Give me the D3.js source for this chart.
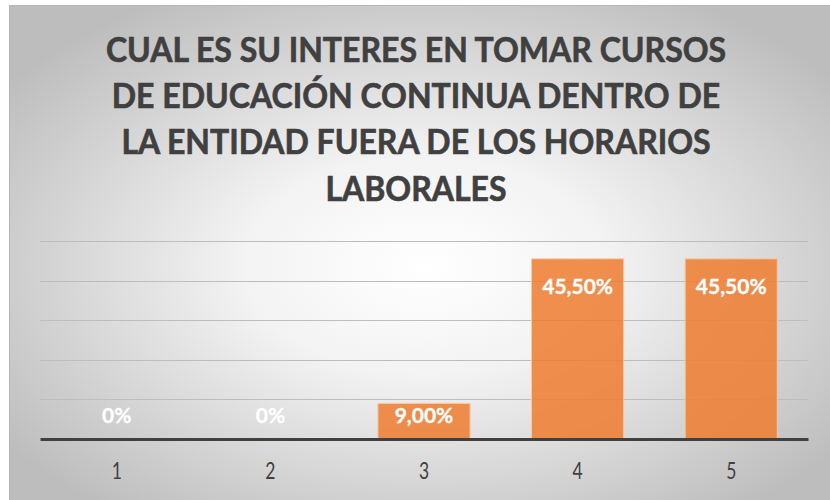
<!DOCTYPE html>
<html>
<head>
<meta charset="utf-8">
<script src="https://cdn.jsdelivr.net/npm/d3@7"></script>
<style>
  body { margin: 0; background: #fff; }
  svg { display: block; }
</style>
</head>
<body>
<div id="chart"></div>
<script>
// data
const categories = ["1", "2", "3", "4", "5"];
const values = [0, 0, 0.09, 0.455, 0.455];
const valueLabels = ["0%", "0%", "9,00%", "45,50%", "45,50%"];
const titleLines = [
    "CUAL ES SU INTERES EN TOMAR CURSOS",
    "DE EDUCACIÓN CONTINUA DENTRO DE",
    "LA ENTIDAD FUERA DE LOS HORARIOS",
    "LABORALES"
];
const gridTicks = [0.1, 0.2, 0.3, 0.4, 0.5];

const width = 830;
const height = 500;

const svg = d3.select("#chart").append("svg")
    .attr("width", width)
    .attr("height", height);

// radial background like the office chart area
const defs = svg.append("defs");
const grad = defs.append("radialGradient")
    .attr("id", "bg")
    .attr("cx", "50%").attr("cy", "52%")
    .attr("r", "62%");
grad.append("stop").attr("offset", "0%").attr("stop-color", "#ffffff");
grad.append("stop").attr("offset", "35%").attr("stop-color", "#f3f3f3");
grad.append("stop").attr("offset", "100%").attr("stop-color", "#bdbdbd");

svg.append("rect")
    .attr("x", 9.5).attr("y", 5.5)
    .attr("width", width).attr("height", height)
    .attr("fill", "url(#bg)")
    .attr("stroke", "#b5b5b5")
    .attr("stroke-width", 1);

// scales
const x = d3.scaleBand()
    .domain(categories)
    .range([40, 808])
    .paddingInner(0.4)
    .paddingOuter(0.2);

const y = d3.scaleLinear()
    .domain([0, 0.5])
    .range([439, 241]);

// gridlines
svg.append("g")
    .selectAll("line")
    .data(gridTicks)
    .enter().append("line")
    .attr("x1", 40)
    .attr("x2", 808)
    .attr("y1", d => Math.round(y(d)) + 0.5)
    .attr("y2", d => Math.round(y(d)) + 0.5)
    .attr("stroke", "#bdbdbd")
    .attr("stroke-width", 1);

// bars - a little see-through, the gridlines show behind them
svg.append("g")
    .selectAll("rect")
    .data(values)
    .enter().append("rect")
    .attr("x", (d, i) => x(categories[i]))
    .attr("y", d => y(d))
    .attr("width", x.bandwidth())
    .attr("height", d => y(0) - y(d))
    .attr("fill", "#ed7d31")
    .attr("fill-opacity", 0.86)
    .attr("stroke", "#f8caa8")
    .attr("stroke-width", d => d > 0 ? 1 : 0);

// baseline axis
const xAxis = svg.append("g")
    .attr("transform", `translate(0,${y(0)})`)
    .call(d3.axisBottom(x).tickSize(0).tickPadding(0));
xAxis.select(".domain")
    .attr("stroke", "#404040")
    .attr("stroke-width", 3);
xAxis.selectAll(".tick text").remove();

// category labels (stretched a bit vertically like the reference)
svg.append("g")
    .selectAll("text")
    .data(categories)
    .enter().append("text")
    .attr("transform", d => `translate(${x(d) + x.bandwidth() / 2},478.5) scale(1,1.3)`)
    .attr("text-anchor", "middle")
    .attr("font-family", "Lato, sans-serif")
    .attr("font-size", 17.5)
    .attr("fill", "#404040")
    .text(d => d);

// value labels, inside end of the bar
svg.append("g")
    .selectAll("text")
    .data(values)
    .enter().append("text")
    .attr("transform", (d, i) => {
        const yy = Math.min(y(d) + 35, y(0) - 16.5);
        return `translate(${x(categories[i]) + x.bandwidth() / 2},${yy}) scale(1,1.03)`;
    })
    .attr("text-anchor", "middle")
    .attr("font-family", "Lato, sans-serif")
    .attr("font-weight", "bold")
    .attr("font-size", 21)
    .attr("fill", "#ffffff")
    .attr("stroke", "#ffffff")
    .attr("stroke-width", 0.3)
    .text((d, i) => valueLabels[i]);

// title
svg.append("g")
    .selectAll("text")
    .data(titleLines)
    .enter().append("text")
    .attr("transform", (d, i) => `translate(416,${61.5 + i * 46.4}) scale(1,1.06)`)
    .attr("text-anchor", "middle")
    .attr("font-family", "Lato, sans-serif")
    .attr("font-weight", "bold")
    .attr("font-size", 32)
    .attr("fill", "#404040")
    .attr("stroke", "#404040")
    .attr("stroke-width", 0.6)
    .text(d => d);
</script>
</body>
</html>
